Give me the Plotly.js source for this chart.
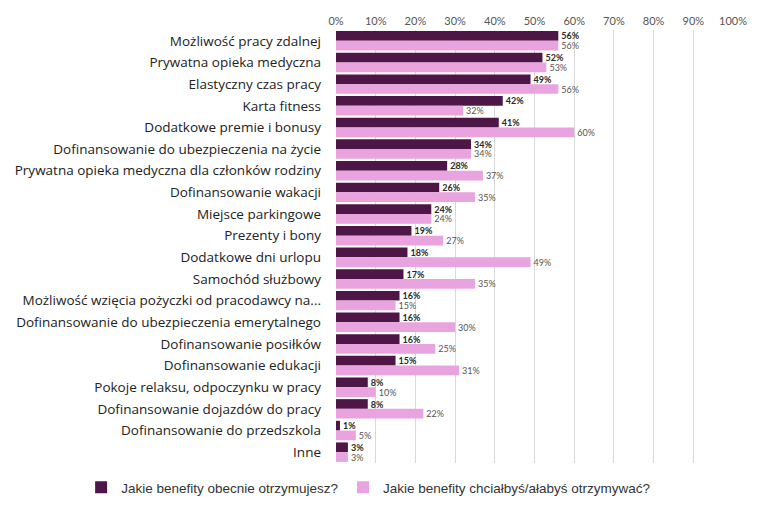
<!DOCTYPE html>
<html><head><meta charset="utf-8">
<script src="https://cdn.plot.ly/plotly-3.0.1.min.js"></script>
<style>html,body{margin:0;padding:0;background:#fff}#chart{width:760px;height:506px}</style>
</head><body><div id="chart"></div>
<script>
const categories = [
  "Możliwość pracy zdalnej",
  "Prywatna opieka medyczna",
  "Elastyczny czas pracy",
  "Karta fitness",
  "Dodatkowe premie i bonusy",
  "Dofinansowanie do ubezpieczenia na życie",
  "Prywatna opieka medyczna dla członków rodziny",
  "Dofinansowanie wakacji",
  "Miejsce parkingowe",
  "Prezenty i bony",
  "Dodatkowe dni urlopu",
  "Samochód służbowy",
  "Możliwość wzięcia pożyczki od pracodawcy na...",
  "Dofinansowanie do ubezpieczenia emerytalnego",
  "Dofinansowanie posiłków",
  "Dofinansowanie edukacji",
  "Pokoje relaksu, odpoczynku w pracy",
  "Dofinansowanie dojazdów do pracy",
  "Dofinansowanie do przedszkola",
  "Inne"
];
const currentName = "Jakie benefity obecnie otrzymujesz?";
const desiredName = "Jakie benefity chciałbyś/ałabyś otrzymywać?";
const currentValues = [56,52,49,42,41,34,28,26,24,19,18,17,16,16,16,15,8,8,1,3];
const desiredValues = [56,53,56,32,60,34,37,35,24,27,49,35,15,30,25,31,10,22,5,3];
const tickValues = [0,10,20,30,40,50,60,70,80,90,100];
const tickLabels = tickValues.map(v => v + "%");

const traces = [
  {type:'bar', orientation:'h', name: currentName, y: categories, x: currentValues,
   marker:{color:'#4e1547'}, text: currentValues.map(v => '<b>' + v + '%</b>'),
   textposition:'outside', cliponaxis:false, constraintext:'none',
   textfont:{family:'Lato, sans-serif', size:9, color:'#2a2a2a'}, hoverinfo:'x+y'},
  {type:'bar', orientation:'h', name: desiredName, y: categories, x: desiredValues,
   marker:{color:'#e9a3de'}, text: desiredValues.map(v => v + '%'),
   textposition:'outside', cliponaxis:false, constraintext:'none',
   textfont:{family:'Lato, sans-serif', size:9, color:'#555'}, hoverinfo:'x+y'}
];
const layout = {
  width:760, height:506,
  margin:{l:336, r:27, t:30, b:43, autoexpand:false},
  barmode:'group', bargap:0.1, bargroupgap:0,
  paper_bgcolor:'#fff', plot_bgcolor:'#fff',
  font:{family:'Open Sans, sans-serif', color:'#222'},
  xaxis:{side:'top', range:[0,100], tickvals:tickValues, ticktext:tickLabels,
    showgrid:true, gridcolor:'#d9d9d9', gridwidth:1, zeroline:false, showline:false,
    ticks:'', ticklabelstandoff:2, tickfont:{family:'Lato, sans-serif', size:11, color:'#555'}, fixedrange:true},
  yaxis:{autorange:'reversed', ticks:'', ticklabelstandoff:14, tickfont:{size:13.5, color:'#222'},
    showline:false, zeroline:false},
  legend:{orientation:'h', x:-0.642, xanchor:'left', y:-0.021, yanchor:'top',
    font:{family:'Liberation Sans, Arial, sans-serif', size:13.5, color:'#333'}, itemwidth:30,
    tracegroupgap:0},
  showlegend:true
};
Plotly.newPlot('chart', traces, layout, {displayModeBar:false, staticPlot:true});
</script></body></html>
